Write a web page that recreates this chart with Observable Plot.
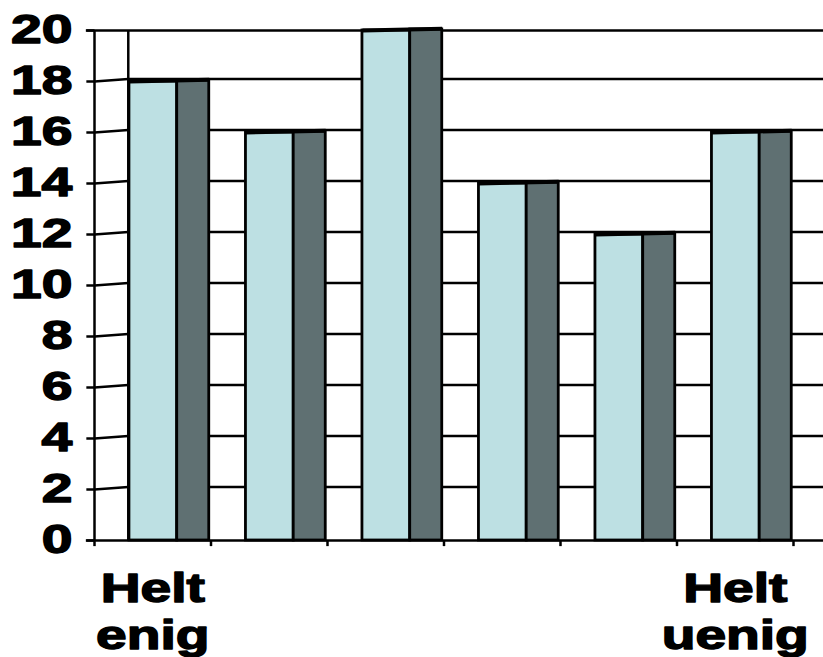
<!DOCTYPE html>
<html>
<head>
<meta charset="utf-8">
<script src="https://cdn.jsdelivr.net/npm/d3@7"></script>
<script src="https://cdn.jsdelivr.net/npm/@observablehq/plot@0.6"></script>
<style>
  html, body { margin: 0; padding: 0; background: #fff; }
</style>
</head>
<body>
<div id="chart"></div>
<script>
// Answer categories (only the two ends are labelled) and their counts
const categories = ["Helt\nenig", "", "", "", "", "Helt\nuenig"];
const values = [18, 16, 20, 14, 12, 16];
const yTicks = [0, 2, 4, 6, 8, 10, 12, 14, 16, 18, 20];

const rows = categories.map((label, i) => ({i, label, value: values[i]}));

// Pseudo-3D geometry, in band units (x) and value units (y)
const wall = 0.29;     // depth of the left side wall
const lift = 0.1;      // how far the back wall sits above the front edge
const frontL = 0.3, frontR = 0.71, sideR = 0.985;
const xEnd = 6.26;     // back wall runs to the right edge
const tickL = -0.07;   // outward y tick length
const line = {stroke: "black", strokeWidth: 2.5};

const inner = yTicks.filter(d => d > 0 && d < 20);

const chart = Plot.plot({
  width: 823,
  height: 657,
  marginLeft: 94,
  marginRight: 30,
  marginTop: 30,
  marginBottom: 117,
  x: {domain: [0, 6], axis: null},
  y: {domain: [0, 20], axis: null},
  style: {
    fontFamily: "'Liberation Sans', Arial, sans-serif",
    fontWeight: "bold",
    color: "black",
    background: "white",
    overflow: "visible"
  },
  marks: [
    // back wall gridlines
    Plot.ruleY(inner, {y: d => d + lift, x1: wall, x2: xEnd, ...line}),
    // side wall gridlines, slanting up to the back wall
    Plot.link(inner, {x1: 0, y1: d => d, x2: wall, y2: d => d + lift, ...line}),
    // top edge and floor
    Plot.ruleY([20, 0], {x1: tickL, x2: xEnd, ...line}),
    // value axis and back-wall corner
    Plot.ruleX([0, wall], {y1: 0, y2: 20, ...line}),
    // y ticks
    Plot.link(yTicks, {x1: tickL, x2: 0, y1: d => d, y2: d => d, ...line}),
    // category ticks
    Plot.ruleX(d3.range(categories.length + 1), {y1: 0, y2: -0.24, ...line}),
    // front faces
    Plot.rect(rows, {
      x1: d => d.i + frontL, x2: d => d.i + frontR,
      y1: 0, y2: "value",
      fill: "#bde0e3", stroke: "black", strokeWidth: 2.8
    }),
    // side faces
    Plot.rect(rows, {
      x1: d => d.i + frontR, x2: d => d.i + sideR,
      y1: 0, y2: d => d.value + 0.04,
      fill: "#5f7072", stroke: "black", strokeWidth: 2.8
    }),
    // column tops
    Plot.link(rows, {
      x1: d => d.i + frontL, y1: "value",
      x2: d => d.i + sideR, y2: d => d.value + 0.07,
      stroke: "black", strokeWidth: 4
    }),
    // y tick labels
    Plot.text(yTicks, {
      x: 0, y: d => d, text: d => String(d),
      textAnchor: "end", dx: -22,
      fontSize: 40, fontWeight: "bold", fill: "black",
      stroke: "black", strokeWidth: 1.4
    }),
    // category labels
    Plot.text(rows, {
      x: d => d.i + 0.5, y: 0, text: "label",
      lineAnchor: "top", dy: 28, lineHeight: 1.17,
      fontSize: 40, fontWeight: "bold", fill: "black",
      stroke: "black", strokeWidth: 1.4
    })
  ]
});

document.getElementById("chart").append(chart);

// widen the bold lettering horizontally about each label's anchor
const stretch = 1.38;
d3.select(chart).selectAll("text").each(function () {
  const bb = this.getBBox();
  if (!bb.width) return;
  const anchor = getComputedStyle(this).textAnchor;
  const ax = anchor === "end" ? bb.x + bb.width
    : anchor === "start" ? bb.x
    : bb.x + bb.width / 2;
  const t = this.getAttribute("transform") || "";
  this.setAttribute("transform",
    `${t} translate(${ax},0) scale(${stretch},1) translate(${-ax},0)`);
});
</script>
</body>
</html>
